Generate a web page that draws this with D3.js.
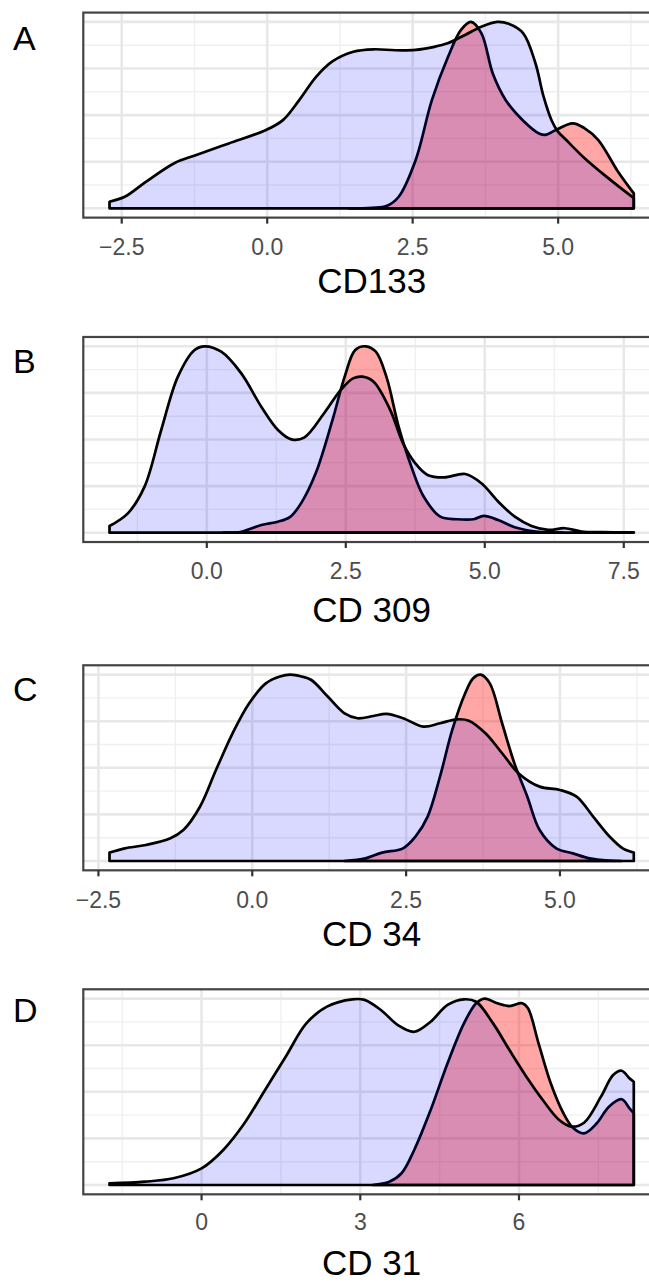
<!DOCTYPE html>
<html>
<head>
<meta charset="utf-8">
<script src="https://cdn.jsdelivr.net/npm/d3@7"></script>
<style>
  html, body { margin: 0; padding: 0; background: #ffffff; }
  svg { display: block; }
</style>
</head>
<body>
<script>
// ---------------- DATA ----------------
const panelLetters = ["A", "B", "C", "D"];
const markerTitles = ["CD133", "CD 309", "CD 34", "CD 31"];
const tickValues = [[-2.5, 0, 2.5, 5], [0, 2.5, 5, 7.5], [-2.5, 0, 2.5, 5], [0, 3, 6]];
const tickLabels = [["\u22122.5", "0.0", "2.5", "5.0"], ["0.0", "2.5", "5.0", "7.5"], ["\u22122.5", "0.0", "2.5", "5.0"], ["0", "3", "6"]];
const minorValues = [[-1.25, 1.25, 3.75, 6.25], [-1.25, 1.25, 3.75, 6.25], [-1.25, 1.25, 3.75, 6.25], [-1.5, 1.5, 4.5, 7.5]];
const yMajor = [0, 0.25, 0.5, 0.75, 1];
const yMinor = [0.125, 0.375, 0.625, 0.875];

// scaled densities [value, density]
const cd133Blue = [[-2.71,0.035],[-2.44,0.063],[-2.08,0.143],[-1.59,0.243],[-1.23,0.285],[-0.66,0.348],[-0.02,0.42],[0.27,0.473],[0.55,0.58],[0.84,0.705],[1.12,0.788],[1.48,0.84],[1.83,0.853],[2.2,0.848],[2.55,0.85],[2.85,0.865],[3.1,0.885],[3.4,0.93],[3.68,0.974],[3.95,1.0],[4.15,0.99],[4.4,0.939],[4.61,0.778],[4.75,0.599],[4.89,0.47],[5.0,0.41],[5.14,0.366],[5.45,0.27],[5.75,0.19],[6.05,0.115],[6.3,0.055]];
const cd133Red = [[1.4,0],[1.8,0.003],[2.05,0.012],[2.26,0.062],[2.55,0.258],[2.83,0.58],[3.11,0.814],[3.33,0.957],[3.5,1.0],[3.68,0.94],[3.88,0.72],[4.1,0.58],[4.4,0.47],[4.68,0.4],[4.8,0.395],[4.96,0.42],[5.25,0.456],[5.45,0.43],[5.69,0.366],[6.03,0.196],[6.3,0.08]];

const cd309Blue = [[-1.75,0.036],[-1.42,0.104],[-1.12,0.247],[-0.82,0.551],[-0.52,0.837],[-0.22,0.98],[-0.04,1.0],[0.26,0.971],[0.62,0.855],[0.98,0.676],[1.28,0.551],[1.52,0.501],[1.75,0.51],[2.11,0.641],[2.41,0.766],[2.63,0.828],[2.8,0.837],[3.0,0.81],[3.3,0.658],[3.53,0.479],[3.75,0.372],[3.97,0.31],[4.27,0.297],[4.65,0.315],[4.94,0.265],[5.24,0.167],[5.54,0.086],[5.84,0.036],[6.14,0.015],[6.44,0.024],[6.74,0.006],[7.1,0.003],[7.68,0.002]];
const cd309Red = [[0.3,0],[0.62,0.005],[0.98,0.041],[1.28,0.059],[1.5,0.085],[1.7,0.16],[1.96,0.32],[2.26,0.604],[2.48,0.837],[2.67,0.98],[2.86,1.0],[3.04,0.971],[3.23,0.837],[3.45,0.569],[3.68,0.354],[3.9,0.194],[4.2,0.086],[4.5,0.072],[4.8,0.072],[4.98,0.09],[5.24,0.068],[5.54,0.029],[5.92,0.006],[6.4,0]];

const cd34Blue = [[-2.32,0.045],[-2.07,0.068],[-1.73,0.086],[-1.33,0.122],[-1.12,0.166],[-0.85,0.291],[-0.59,0.488],[-0.32,0.685],[-0.05,0.846],[0.22,0.953],[0.45,0.99],[0.62,1.0],[0.8,0.99],[0.96,0.971],[1.23,0.881],[1.5,0.792],[1.71,0.766],[1.97,0.778],[2.18,0.789],[2.45,0.766],[2.78,0.721],[3.05,0.739],[3.32,0.76],[3.52,0.753],[3.79,0.685],[4.06,0.578],[4.33,0.47],[4.67,0.399],[5.0,0.381],[5.27,0.345],[5.54,0.238],[5.81,0.13],[6.02,0.068],[6.2,0.045]];
const cd34Red = [[1.5,0],[1.84,0.014],[2.11,0.045],[2.45,0.068],[2.65,0.13],[2.85,0.238],[3.05,0.452],[3.25,0.703],[3.46,0.9],[3.59,0.98],[3.71,1.0],[3.86,0.953],[4.06,0.739],[4.26,0.524],[4.47,0.345],[4.67,0.166],[4.94,0.068],[5.21,0.041],[5.48,0.014],[5.81,0.002],[6.0,0]];

const cd31Blue = [[-1.74,0.009],[-1.07,0.018],[-0.53,0.036],[0,0.089],[0.41,0.188],[0.81,0.331],[1.2,0.51],[1.59,0.688],[1.98,0.867],[2.37,0.957],[2.85,0.996],[3.08,0.993],[3.39,0.939],[3.71,0.858],[4.02,0.822],[4.33,0.876],[4.65,0.966],[4.96,0.996],[5.19,0.983],[5.51,0.867],[5.82,0.724],[6.14,0.581],[6.45,0.456],[6.76,0.349],[7.0,0.313],[7.23,0.334],[7.55,0.474],[7.78,0.59],[7.94,0.613],[8.09,0.572],[8.17,0.554]];
const cd31Red = [[3.23,0],[3.55,0.018],[3.78,0.063],[4.02,0.188],[4.33,0.402],[4.65,0.653],[4.96,0.867],[5.19,0.975],[5.35,1.0],[5.59,0.975],[5.82,0.96],[6.06,0.975],[6.17,0.948],[6.37,0.76],[6.6,0.546],[6.84,0.385],[7.03,0.304],[7.23,0.277],[7.47,0.331],[7.7,0.42],[7.94,0.46],[8.09,0.411],[8.17,0.385]];

const blueSeries = [cd133Blue, cd309Blue, cd34Blue, cd31Blue];
const redSeries = [cd133Red, cd309Red, cd34Red, cd31Red];

// ---------------- LAYOUT ----------------
const W = 649, H = 1284;
const plotLeft = 83.3, plotRight = 660;
const unitPx = 186.4;       // px for scaled density 0 -> 1
const baseY = [208.3, 532.7, 861, 1185];
const tickLabelY = [246.5, 570.7, 899.7, 1222.3];
const titleY = [280, 609, 933, 1262];
const letterY = [37.5, 360.8, 689, 1010];

const svg = d3.select("body").append("svg").attr("width", W).attr("height", H);
svg.append("rect").attr("width", W).attr("height", H).attr("fill", "#ffffff");

const font = "'Liberation Sans', Arial, Helvetica, sans-serif";

for (let i = 0; i < 4; i++) {
  const blue = blueSeries[i], red = redSeries[i];
  const all = blue.concat(red);
  const xmin = d3.min(all, d => d[0]), xmax = d3.max(all, d => d[0]);
  const pad = (xmax - xmin) * 0.05;
  const x = d3.scaleLinear().domain([xmin - pad, xmax + pad]).range([plotLeft, plotRight]);
  const y = d3.scaleLinear().domain([-0.05, 1.05]).range([baseY[i] + 0.05 * unitPx, baseY[i] - 1.05 * unitPx]);
  const top = y(1.05), bottom = y(-0.05);

  const g = svg.append("g");

  // grid
  g.selectAll(".vmin").data(minorValues[i]).enter().append("line")
    .attr("x1", d => x(d)).attr("x2", d => x(d)).attr("y1", top).attr("y2", bottom)
    .attr("stroke", "#f0f0f0").attr("stroke-width", 1.4);
  g.selectAll(".hmin").data(yMinor).enter().append("line")
    .attr("x1", plotLeft).attr("x2", plotRight).attr("y1", d => y(d)).attr("y2", d => y(d))
    .attr("stroke", "#f0f0f0").attr("stroke-width", 1.4);
  g.selectAll(".vmaj").data(tickValues[i]).enter().append("line")
    .attr("x1", d => x(d)).attr("x2", d => x(d)).attr("y1", top).attr("y2", bottom)
    .attr("stroke", "#e8e8e8").attr("stroke-width", 2.6);
  g.selectAll(".hmaj").data(yMajor).enter().append("line")
    .attr("x1", plotLeft).attr("x2", plotRight).attr("y1", d => y(d)).attr("y2", d => y(d))
    .attr("stroke", "#e8e8e8").attr("stroke-width", 2.6);

  const area = d3.area()
    .x(d => x(d[0])).y0(y(0)).y1(d => y(d[1]))
    .curve(d3.curveCatmullRom.alpha(0.5));

  g.append("path").datum(red).attr("d", area)
    .attr("fill", "rgb(255,0,0)").attr("fill-opacity", 0.35)
    .attr("stroke", "#000").attr("stroke-width", 2.7).attr("stroke-linejoin", "round");
  g.append("path").datum(blue).attr("d", area)
    .attr("fill", "rgb(0,0,255)").attr("fill-opacity", 0.15)
    .attr("stroke", "#000").attr("stroke-width", 2.7).attr("stroke-linejoin", "round");

  // border
  g.append("rect").attr("x", plotLeft).attr("y", top)
    .attr("width", plotRight - plotLeft).attr("height", bottom - top)
    .attr("fill", "none").attr("stroke", "#444444").attr("stroke-width", 2.2);

  // ticks
  g.selectAll(".tick").data(tickValues[i]).enter().append("line")
    .attr("x1", d => x(d)).attr("x2", d => x(d)).attr("y1", bottom).attr("y2", bottom + 6)
    .attr("stroke", "#333333").attr("stroke-width", 2.2);
  g.selectAll(".tl").data(tickValues[i]).enter().append("text")
    .attr("x", d => x(d)).attr("y", tickLabelY[i])
    .attr("text-anchor", "middle").attr("dominant-baseline", "central")
    .attr("font-family", font).attr("font-size", 23).attr("fill", "#4d4d4d")
    .text((d, j) => tickLabels[i][j]);

  // axis title
  g.append("text").attr("x", (plotLeft + plotRight) / 2).attr("y", titleY[i])
    .attr("text-anchor", "middle").attr("dominant-baseline", "central")
    .attr("font-family", font).attr("font-size", 35).attr("fill", "#000")
    .text(markerTitles[i]);

  // panel letter
  g.append("text").attr("x", 13).attr("y", letterY[i])
    .attr("dominant-baseline", "central")
    .attr("font-family", font).attr("font-size", 34).attr("fill", "#000")
    .text(panelLetters[i]);
}
</script>
</body>
</html>
